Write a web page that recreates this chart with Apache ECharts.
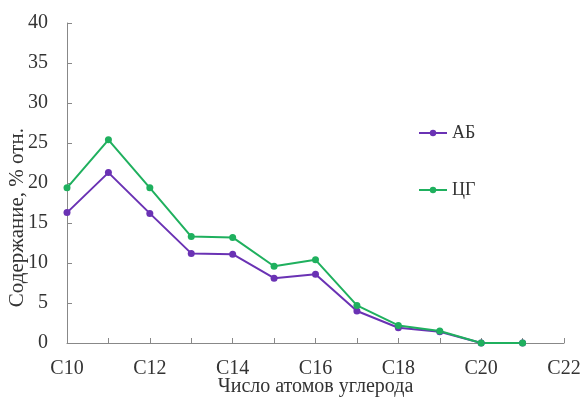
<!DOCTYPE html>
<html>
<head>
<meta charset="utf-8">
<script src="https://cdn.jsdelivr.net/npm/echarts@6/dist/echarts.min.js"></script>
<style>
  html, body { margin: 0; padding: 0; background: #fff; }
  #chart { width: 582px; height: 398px; }
</style>
</head>
<body>
<div id="chart"></div>
<script>
// Carbon number categories (C10 … C22)
const categories = ['C10','C11','C12','C13','C14','C15','C16','C17','C18','C19','C20','C21','C22'];
// Relative content, % — series АБ
const seriesAB = [16.3, 21.3, 16.2, 11.2, 11.1, 8.1, 8.6, 4.0, 1.9, 1.4, 0, 0, null];
// Relative content, % — series ЦГ
const seriesCG = [19.4, 25.4, 19.4, 13.3, 13.2, 9.6, 10.4, 4.7, 2.2, 1.5, 0, 0, null];
// Series names
const seriesNames = ['АБ', 'ЦГ'];

const FONT = 'Liberation Serif';
const chart = echarts.init(document.getElementById('chart'), null, { renderer: 'canvas' });

chart.setOption({
  backgroundColor: '#fff',
  animation: false,
  grid: { left: 67, right: 18, top: 23, bottom: 55, containLabel: false, outerBoundsMode: 'none' },
  legend: {
    orient: 'vertical',
    left: 413,
    top: 119,
    itemGap: 39,
    itemWidth: 28,
    itemHeight: 8,
    textStyle: { fontFamily: FONT, fontSize: 18, color: '#333' },
    data: seriesNames
  },
  xAxis: {
    type: 'category',
    data: categories,
    boundaryGap: false,
    name: 'Число атомов углерода',
    nameLocation: 'middle',
    nameGap: 34,
    nameMoveOverlap: false,
    nameTextStyle: { fontFamily: FONT, fontSize: 20, color: '#333', verticalAlign: 'top' },
    axisLine: { lineStyle: { color: '#888', width: 1 } },
    axisTick: { inside: true, length: 5, interval: 0, lineStyle: { color: '#888' } },
    axisLabel: {
      interval: 1,
      margin: 16,
      fontFamily: FONT, fontSize: 20, color: '#333'
    },
    splitLine: { show: false }
  },
  yAxis: {
    type: 'value',
    min: 0, max: 40, interval: 5,
    axisLine: { show: true, lineStyle: { color: '#888', width: 1 } },
    axisTick: { show: true, inside: true, length: 5, lineStyle: { color: '#888' } },
    axisLabel: { margin: 19, fontFamily: FONT, fontSize: 20, color: '#333' },
    splitLine: { show: false }
  },
  graphic: [{
    type: 'text',
    left: 7,
    top: 128,
    rotation: Math.PI / 2,
    style: {
      text: 'Содержание, % отн.',
      fontFamily: FONT,
      fontSize: 21,
      fill: '#333'
    }
  }],
  series: [
    {
      name: seriesNames[0],
      type: 'line',
      data: seriesAB,
      symbol: 'circle',
      symbolSize: 7,
      connectNulls: false,
      lineStyle: { color: '#6A32B4', width: 2 },
      itemStyle: { color: '#6A32B4' }
    },
    {
      name: seriesNames[1],
      type: 'line',
      data: seriesCG,
      symbol: 'circle',
      symbolSize: 7,
      connectNulls: false,
      lineStyle: { color: '#1FB05E', width: 2 },
      itemStyle: { color: '#1FB05E' }
    }
  ]
});
</script>
</body>
</html>
